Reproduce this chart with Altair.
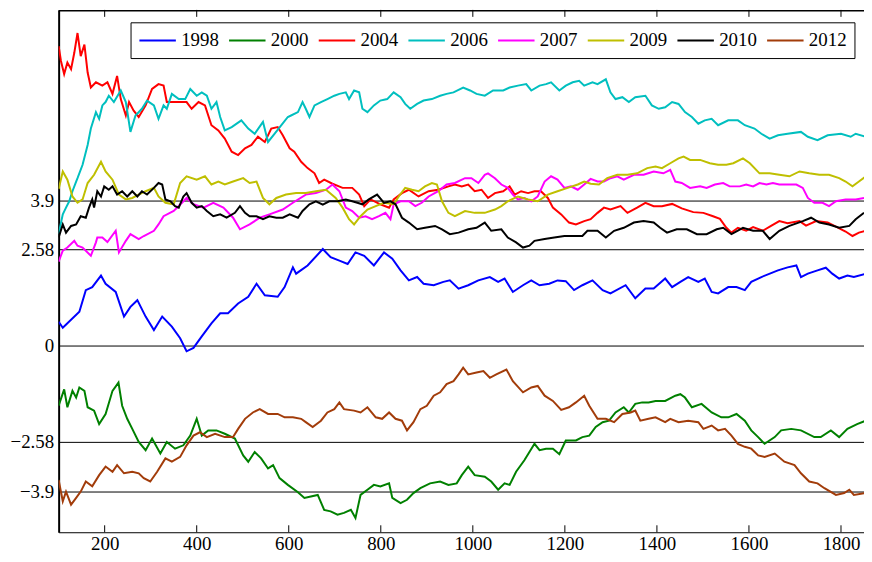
import altair as alt
import pandas as pd

series_names = ["1998", "2000", "2004", "2006", "2007", "2009", "2010", "2012"]
colors = ["#0000FF", "#008000", "#FF0000", "#00BFBF", "#FF00FF", "#BFBF00", "#000000", "#A23C0A"]

# values at the x positions listed with them
x1998 = [100, 109, 145, 159, 173, 192, 202, 224, 242, 256, 271, 289, 307, 325, 346, 364, 378, 393,
         411, 432, 451, 468, 490, 512, 530, 548, 576, 591, 609, 616, 641, 674, 691, 710, 728, 745,
         764, 785, 807, 825, 843, 861, 879, 893, 915, 936, 950, 969, 990, 1012, 1037, 1055, 1069,
         1087, 1109, 1127, 1145, 1166, 1184, 1202, 1220, 1238, 1260, 1282, 1299, 1332, 1353, 1375,
         1393, 1418, 1433, 1451, 1468, 1490, 1504, 1519, 1533, 1555, 1573, 1591, 1605, 1627, 1663,
         1684, 1703, 1713, 1728, 1749, 1767, 1781, 1796, 1814, 1828, 1854]
v1998 = [0.64, 0.48, 0.91, 1.49, 1.57, 1.88, 1.66, 1.44, 0.78, 1.04, 1.22, 0.78, 0.42, 0.78, 0.51, 0.20,
         -0.15, -0.06, 0.25, 0.6, 0.87, 0.87, 1.13, 1.31, 1.66, 1.35, 1.31, 1.57, 2.1, 1.93, 2.15, 2.59,
         2.37, 2.28, 2.19, 2.5, 2.41, 2.15, 2.5, 2.33, 2.02, 1.75, 1.84, 1.66, 1.62, 1.71, 1.75, 1.53,
         1.62, 1.75, 1.84, 1.71, 1.80, 1.44, 1.62, 1.75, 1.62, 1.66, 1.75, 1.73, 1.49, 1.62, 1.75, 1.49,
         1.40, 1.62, 1.27, 1.53, 1.53, 1.80, 1.57, 1.71, 1.84, 1.71, 1.80, 1.44, 1.40, 1.57, 1.57, 1.49,
         1.71, 1.84, 2.02, 2.10, 2.15, 1.84, 1.93, 2.02, 2.09, 1.93, 1.80, 1.88, 1.84, 1.93]

x2000 = [100, 112, 119, 130, 138, 145, 156, 163, 177, 188, 202, 217, 230, 238, 249, 260, 274, 289, 303,
         321, 335, 353, 371, 386, 400, 411, 425, 443, 461, 483, 501, 512, 526, 540, 555, 566, 580, 598,
         620, 634, 648, 663, 677, 691, 706, 720, 735, 745, 756, 771, 785, 799, 818, 825, 843, 857, 871,
         886, 907, 929, 947, 965, 976, 990, 1004, 1026, 1040, 1055, 1069, 1080, 1094, 1112, 1134, 1145,
         1159, 1174, 1188, 1202, 1224, 1238, 1253, 1267, 1282, 1296, 1310, 1328, 1339, 1353, 1368, 1382,
         1397, 1418, 1440, 1451, 1461, 1476, 1497, 1519, 1540, 1555, 1573, 1591, 1605, 1620, 1634, 1656,
         1670, 1692, 1713, 1742, 1756, 1778, 1796, 1814, 1835, 1854]
v2000 = [-1.61, -1.17, -1.65, -1.21, -1.39, -1.12, -1.21, -1.65, -1.74, -2.1, -1.83, -1.21, -0.99, -1.61,
         -1.96, -2.23, -2.58, -2.80, -2.49, -2.89, -2.58, -2.76, -2.67, -2.41, -1.96, -2.41, -2.27, -2.27,
         -2.36, -2.49, -2.94, -3.11, -2.85, -3.02, -3.29, -3.20, -3.55, -3.73, -3.93, -4.08, -4.04, -4.0,
         -4.40, -4.44, -4.53, -4.48, -4.40, -4.62, -4.0, -3.86, -3.73, -3.77, -3.69, -4.08, -4.22, -4.13,
         -3.95, -3.82, -3.69, -3.64, -3.73, -3.69, -3.47, -3.24, -3.47, -3.51, -3.64, -3.86, -3.69, -3.73,
         -3.38, -3.07, -2.63, -2.80, -2.76, -2.76, -2.91, -2.54, -2.54, -2.45, -2.41, -2.18, -2.05, -2.01,
         -1.79, -1.65, -1.79, -1.56, -1.52, -1.52, -1.48, -1.48, -1.34, -1.30, -1.39, -1.65, -1.56, -1.79,
         -1.92, -1.92, -1.83, -2.01, -2.27, -2.45, -2.63, -2.45, -2.27, -2.23, -2.27, -2.45, -2.45, -2.27,
         -2.45, -2.23, -2.10, -2.01]

x2004 = [100, 105, 112, 119, 127, 134, 141, 148, 156, 163, 170, 181, 195, 206, 217, 227, 235, 246, 253,
         263, 274, 289, 303, 317, 328, 335, 350, 364, 378, 389, 404, 418, 432, 447, 461, 476, 490, 505,
         519, 533, 548, 562, 576, 587, 602, 612, 627, 641, 656, 666, 677, 695, 717, 738, 753, 764, 778,
         799, 818, 828, 846, 861, 882, 904, 925, 947, 961, 976, 990, 1004, 1019, 1033, 1048, 1066, 1080,
         1091, 1105, 1120, 1134, 1148, 1163, 1174, 1192, 1209, 1224, 1242, 1256, 1271, 1285, 1299, 1321,
         1336, 1357, 1375, 1393, 1411, 1433, 1454, 1479, 1501, 1522, 1537, 1551, 1562, 1576, 1594, 1609,
         1630, 1648, 1666, 1684, 1710, 1724, 1746, 1771, 1789, 1810, 1825, 1839, 1854]
v2004 = [8.03, 7.63, 7.28, 7.59, 7.41, 7.85, 8.38, 7.76, 8.07, 7.32, 6.92, 7.06, 6.97, 7.06, 6.75, 7.23,
         6.61, 6.17, 6.53, 6.30, 6.13, 6.44, 6.88, 7.01, 6.97, 6.53, 6.53, 6.53, 6.53, 6.35, 6.53, 6.44,
         5.91, 5.77, 5.55, 5.20, 5.11, 5.29, 5.38, 5.60, 5.46, 5.82, 5.86, 5.64, 5.29, 5.20, 4.93, 4.76,
         4.62, 4.36, 4.45, 4.34, 4.23, 4.23, 4.05, 3.74, 3.92, 3.79, 3.70, 3.92, 4.09, 4.18, 4.0, 4.14,
         4.18, 4.27, 4.32, 4.27, 4.32, 4.14, 4.18, 3.96, 4.09, 4.14, 4.27, 4.05, 4.14, 4.09, 4.14, 4.14,
         3.96, 3.70, 3.52, 3.30, 3.25, 3.34, 3.39, 3.56, 3.70, 3.65, 3.74, 3.56, 3.70, 3.83, 3.74, 3.74,
         3.80, 3.68, 3.58, 3.56, 3.47, 3.40, 3.16, 3.03, 3.16, 3.08, 3.18, 3.08, 3.21, 3.34, 3.28, 3.34,
         3.22, 3.34, 3.30, 3.19, 3.06, 2.94, 3.03, 3.08]

x2006 = [100, 109, 116, 123, 130, 138, 141, 152, 163, 170, 181, 188, 195, 202, 209, 220, 235, 246, 256,
         267, 281, 292, 307, 317, 328, 335, 346, 361, 375, 386, 400, 411, 422, 432, 443, 451, 461, 476,
         497, 512, 526, 544, 555, 569, 584, 598, 605, 620, 630, 637, 645, 656, 670, 684, 699, 710, 724,
         731, 742, 753, 760, 771, 785, 799, 814, 828, 843, 853, 864, 879, 893, 911, 929, 943, 958, 979,
         994, 1008, 1026, 1044, 1066, 1080, 1098, 1116, 1127, 1145, 1159, 1170, 1188, 1202, 1217, 1231,
         1242, 1260, 1271, 1289, 1299, 1310, 1325, 1339, 1353, 1375, 1389, 1404, 1418, 1433, 1447, 1461,
         1476, 1490, 1504, 1519, 1533, 1555, 1576, 1591, 1612, 1627, 1645, 1663, 1684, 1713, 1728, 1749,
         1771, 1800, 1821, 1832, 1854]
v2006 = [3.0, 3.52, 3.70, 3.87, 4.14, 4.40, 4.49, 4.85, 5.38, 5.82, 6.26, 6.08, 6.44, 6.53, 6.70, 6.53,
         6.84, 6.53, 5.73, 6.17, 6.35, 6.57, 6.44, 6.08, 6.44, 6.35, 6.75, 6.61, 6.61, 6.88, 6.70, 6.79,
         6.70, 6.35, 6.53, 6.13, 5.77, 5.86, 6.04, 5.82, 5.68, 6.0, 5.46, 5.68, 5.91, 6.13, 6.17, 6.26,
         6.53, 6.35, 6.13, 6.44, 6.53, 6.61, 6.70, 6.75, 6.79, 6.61, 6.84, 6.79, 6.35, 6.26, 6.44, 6.57,
         6.61, 6.79, 6.66, 6.48, 6.35, 6.48, 6.57, 6.61, 6.70, 6.75, 6.79, 6.92, 6.84, 6.75, 6.70, 6.84,
         6.84, 6.92, 6.97, 7.01, 6.84, 6.97, 7.01, 7.06, 6.84, 6.97, 7.06, 7.10, 6.97, 7.06, 7.01, 7.14,
         6.79, 6.61, 6.66, 6.53, 6.66, 6.70, 6.44, 6.35, 6.39, 6.53, 6.48, 6.26, 6.13, 5.95, 6.04, 6.08,
         5.91, 6.04, 6.04, 5.91, 5.82, 5.68, 5.55, 5.64, 5.68, 5.73, 5.60, 5.51, 5.64, 5.68, 5.60, 5.68,
         5.60]

x2007 = [100, 109, 119, 134, 141, 152, 170, 181, 184, 195, 206, 224, 231, 246, 256, 274, 285, 307, 317,
         328, 350, 368, 378, 393, 415, 436, 458, 479, 494, 515, 537, 558, 587, 609, 637, 659, 681, 695,
         710, 724, 738, 753, 767, 781, 796, 810, 821, 828, 843, 861, 875, 889, 904, 925, 943, 961, 983,
         997, 1012, 1026, 1033, 1048, 1062, 1076, 1087, 1098, 1112, 1127, 1141, 1156, 1170, 1184, 1199,
         1213, 1228, 1242, 1256, 1271, 1285, 1299, 1314, 1328, 1350, 1371, 1393, 1414, 1429, 1440, 1454,
         1472, 1494, 1508, 1526, 1544, 1558, 1580, 1594, 1609, 1623, 1638, 1652, 1666, 1688, 1703, 1717,
         1728, 1742, 1760, 1774, 1789, 1810, 1832, 1850]
v2007 = [2.25, 2.55, 2.63, 2.81, 2.68, 2.63, 2.41, 2.77, 2.90, 2.90, 2.78, 3.08, 2.50, 2.81, 2.99, 2.86,
         2.94, 3.08, 3.25, 3.47, 3.61, 3.83, 3.96, 3.79, 3.70, 3.83, 3.70, 3.43, 3.12, 3.25, 3.43, 3.52,
         3.65, 3.83, 4.05, 4.09, 4.18, 4.32, 4.14, 3.70, 3.61, 3.43, 3.47, 3.39, 3.47, 3.56, 3.39, 3.79,
         3.87, 3.87, 3.74, 3.83, 4.0, 4.14, 4.32, 4.36, 4.49, 4.49, 4.36, 4.58, 4.62, 4.49, 4.32, 4.23,
         4.05, 3.92, 3.96, 3.87, 4.0, 4.40, 4.54, 4.45, 4.23, 4.27, 4.18, 4.32, 4.47, 4.40, 4.40, 4.49,
         4.54, 4.45, 4.58, 4.58, 4.67, 4.62, 4.71, 4.40, 4.36, 4.23, 4.27, 4.23, 4.32, 4.36, 4.27, 4.27,
         4.32, 4.27, 4.36, 4.32, 4.36, 4.32, 4.32, 4.32, 4.23, 3.96, 3.83, 3.83, 3.74, 3.87, 3.92, 3.92,
         3.96]

x2009 = [100, 109, 119, 130, 141, 152, 163, 177, 192, 202, 217, 231, 246, 260, 274, 289, 307, 317, 332,
         350, 364, 378, 400, 418, 432, 447, 461, 479, 501, 515, 530, 544, 558, 573, 594, 616, 637, 659,
         681, 702, 717, 731, 742, 756, 771, 789, 807, 828, 839, 853, 868, 882, 896, 911, 922, 933, 947,
         961, 983, 1004, 1026, 1048, 1062, 1076, 1098, 1120, 1141, 1163, 1184, 1206, 1228, 1242, 1256,
         1274, 1292, 1314, 1336, 1357, 1379, 1397, 1411, 1429, 1447, 1458, 1472, 1494, 1515, 1533, 1551,
         1566, 1587, 1602, 1623, 1645, 1666, 1688, 1710, 1731, 1753, 1774, 1796, 1810, 1825, 1839, 1854]
v2009 = [4.2, 4.67, 4.45, 4.0, 3.83, 3.92, 4.36, 4.58, 4.93, 4.67, 4.45, 4.05, 3.92, 3.96, 4.05, 4.14,
         4.23, 4.0, 3.83, 3.79, 4.36, 4.54, 4.45, 4.54, 4.32, 4.40, 4.32, 4.40, 4.49, 4.36, 4.40, 3.96,
         3.79, 3.96, 4.05, 4.09, 4.09, 4.14, 4.18, 3.96, 3.70, 3.39, 3.25, 3.47, 3.65, 3.74, 3.83, 3.79,
         4.0, 4.23, 4.18, 4.14, 4.27, 4.36, 4.32, 3.87, 3.56, 3.47, 3.61, 3.56, 3.56, 3.65, 3.74, 3.87,
         4.0, 3.92, 3.87, 4.05, 4.14, 4.23, 4.32, 4.40, 4.34, 4.32, 4.49, 4.58, 4.58, 4.62, 4.76, 4.80,
         4.76, 4.89, 5.02, 5.07, 4.98, 4.98, 4.89, 4.85, 4.85, 4.89, 5.02, 4.89, 4.62, 4.62, 4.58, 4.54,
         4.67, 4.62, 4.58, 4.58, 4.49, 4.40, 4.27, 4.40, 4.54]

x2010 = [100, 109, 116, 127, 138, 148, 159, 166, 173, 177, 184, 192, 199, 209, 217, 227, 238, 249, 260,
         271, 281, 292, 307, 317, 325, 332, 343, 353, 361, 371, 378, 389, 400, 411, 422, 436, 451, 465,
         483, 494, 505, 515, 530, 544, 558, 573, 587, 602, 620, 630, 645, 659, 674, 688, 706, 724, 738,
         749, 760, 774, 792, 807, 821, 832, 846, 861, 879, 896, 918, 933, 950, 969, 990, 1008, 1026,
         1040, 1062, 1076, 1094, 1109, 1123, 1134, 1156, 1177, 1199, 1220, 1238, 1249, 1271, 1289, 1307,
         1328, 1350, 1371, 1393, 1407, 1422, 1443, 1465, 1487, 1508, 1530, 1544, 1562, 1587, 1609, 1630,
         1645, 1666, 1688, 1717, 1735, 1753, 1774, 1796, 1818, 1832, 1850]
v2010 = [2.90, 3.25, 3.03, 3.21, 3.25, 3.47, 3.43, 3.70, 3.92, 3.70, 4.14, 4.0, 4.27, 4.18, 4.27, 4.05,
         4.14, 4.0, 4.14, 4.0, 4.14, 4.05, 4.23, 4.36, 4.32, 3.92, 3.87, 3.74, 3.70, 4.0, 4.09, 3.83, 3.70,
         3.74, 3.61, 3.47, 3.52, 3.43, 3.56, 3.74, 3.56, 3.47, 3.47, 3.39, 3.47, 3.43, 3.43, 3.52, 3.43,
         3.61, 3.79, 3.87, 3.78, 3.87, 3.87, 3.92, 3.87, 3.83, 3.79, 3.92, 4.05, 3.83, 3.87, 3.79, 3.43,
         3.30, 3.12, 3.16, 3.21, 3.12, 2.99, 3.03, 3.12, 3.16, 3.30, 3.08, 3.12, 2.90, 2.77, 2.63, 2.68,
         2.81, 2.86, 2.90, 2.94, 2.94, 2.94, 3.08, 3.08, 2.90, 3.08, 3.16, 3.30, 3.34, 3.30, 3.16, 3.03,
         3.12, 3.12, 2.99, 2.99, 3.12, 3.16, 2.99, 3.16, 3.08, 3.08, 2.86, 3.08, 3.21, 3.34, 3.43, 3.30,
         3.25, 3.16, 3.21, 3.39, 3.56]

x2012 = [100, 109, 116, 127, 138, 148, 159, 173, 188, 202, 217, 227, 242, 260, 274, 285, 299, 314, 332,
         346, 364, 378, 393, 407, 422, 440, 461, 479, 490, 505, 522, 537, 555, 576, 591, 609, 627, 637,
         652, 670, 684, 699, 710, 720, 742, 756, 771, 789, 803, 818, 832, 846, 857, 871, 886, 900, 915,
         929, 943, 958, 969, 979, 990, 1008, 1023, 1037, 1051, 1073, 1087, 1109, 1127, 1141, 1156, 1174,
         1192, 1209, 1224, 1242, 1253, 1271, 1289, 1307, 1325, 1343, 1353, 1364, 1382, 1397, 1418, 1429,
         1447, 1468, 1490, 1501, 1519, 1533, 1548, 1562, 1576, 1591, 1605, 1620, 1634, 1656, 1677, 1699,
         1713, 1731, 1749, 1764, 1789, 1807, 1818, 1828, 1854]
v2012 = [-3.60, -4.17, -3.91, -4.26, -4.08, -3.91, -3.64, -3.77, -3.47, -3.24, -3.38, -3.20, -3.42,
         -3.38, -3.42, -3.55, -3.64, -3.38, -3.02, -3.11, -2.98, -2.67, -2.41, -2.32, -2.45, -2.36, -2.45,
         -2.45, -2.23, -1.96, -1.79, -1.70, -1.83, -1.83, -1.92, -1.92, -1.96, -2.05, -2.18, -2.01, -1.79,
         -1.70, -1.52, -1.70, -1.74, -1.79, -1.65, -1.92, -1.96, -1.79, -1.96, -2.01, -2.27, -2.05, -1.70,
         -1.61, -1.34, -1.25, -1.03, -0.95, -0.77, -0.59, -0.77, -0.72, -0.68, -0.86, -0.77, -0.64, -0.95,
         -1.25, -1.12, -1.08, -1.34, -1.48, -1.72, -1.65, -1.52, -1.34, -1.61, -1.96, -1.96, -2.05, -1.83,
         -1.79, -1.74, -2.01, -1.96, -1.92, -2.05, -1.96, -2.05, -2.01, -2.05, -2.23, -2.14, -2.27, -2.23,
         -2.41, -2.63, -2.71, -2.76, -2.94, -2.98, -2.89, -3.11, -3.20, -3.42, -3.64, -3.69, -3.82, -4.0,
         -3.95, -3.86, -4.0, -3.95]

ytick_values = [-3.9, -2.58, 0, 2.58, 3.9]
xtick_values = [200, 400, 600, 800, 1000, 1200, 1400, 1600, 1800]

all_x = [x1998, x2000, x2004, x2006, x2007, x2009, x2010, x2012]
all_v = [v1998, v2000, v2004, v2006, v2007, v2009, v2010, v2012]
rows = []
for name, xx, vv in zip(series_names, all_x, all_v):
    for i, (x, v) in enumerate(zip(xx, vv)):
        rows.append({"x": x, "v": v, "series": name, "order": i})
df = pd.DataFrame(rows)

W, H = 811, 526
FONT = "Liberation Serif, Times New Roman, Times, DejaVu Serif, serif"

xscale = alt.Scale(domain=[100, 1850], nice=False, zero=False)
yscale = alt.Scale(domain=[-5, 9], nice=False, zero=False)

lines = alt.Chart(df).mark_line(strokeWidth=2, clip=True).encode(
    x=alt.X("x:Q", scale=xscale,
            axis=alt.Axis(values=xtick_values, title=None, grid=False, ticks=False,
                          labelFont=FONT, labelFontSize=19, labelPadding=2,
                          labelColor="black", domainColor="black", domainWidth=1,
                          format="d")),
    y=alt.Y("v:Q", scale=yscale,
            axis=alt.Axis(values=ytick_values, title=None, grid=True,
                          gridColor="black", gridWidth=1, gridOpacity=1, ticks=False,
                          labelFont=FONT, labelFontSize=19, labelPadding=5,
                          labelColor="black", format=".3~g",
                          labelExpr="replace(datum.label, '-', '\u2212')",
                          domainColor="black", domainWidth=2)),
    color=alt.Color("series:N",
                    scale=alt.Scale(domain=series_names, range=colors),
                    legend=alt.Legend(orient="none", legendX=72.4, legendY=12.5,
                                      direction="horizontal", columns=8, title=None,
                                      symbolType="M-1,0H3", symbolSize=337,
                                      symbolStrokeWidth=2,
                                      symbolFillColor="transparent",
                                      labelFont=FONT, labelFontSize=19,
                                      labelColor="black", labelOffset=22.35,
                                      columnPadding=5.3, padding=7.6,
                                      strokeColor="black", fillColor="white",
                                      cornerRadius=0)),
    order="order:Q",
)

tick_df = pd.DataFrame({"x": xtick_values})
bottom_ticks = alt.Chart(tick_df).mark_rule(color="black", strokeWidth=1).encode(
    x=alt.X("x:Q", scale=xscale),
    y=alt.value(H - 7), y2=alt.value(H))
top_ticks = alt.Chart(tick_df).mark_rule(color="black", strokeWidth=1).encode(
    x=alt.X("x:Q", scale=xscale),
    y=alt.value(0), y2=alt.value(7))
frame_df = pd.DataFrame({"k": [0]})
top_line = alt.Chart(frame_df).mark_rule(color="black", strokeWidth=1.5).encode(
    x=alt.value(0), x2=alt.value(W), y=alt.value(0.75))

chart = alt.layer(lines, bottom_ticks, top_ticks, top_line).properties(
    width=W, height=H,
    autosize=alt.AutoSizeParams(type="none"),
    padding={"left": 51, "top": 0, "right": 0, "bottom": 20},
).configure_view(stroke=None)

chart.save("out.html", embed_options={"renderer": "svg", "actions": False})
